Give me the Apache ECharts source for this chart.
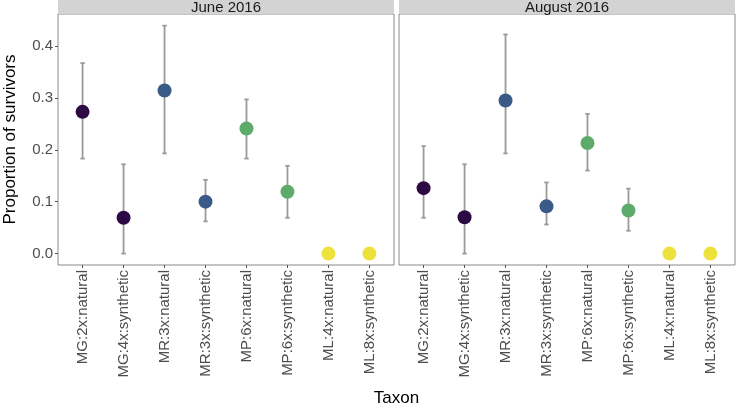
<!DOCTYPE html>
<html>
<head>
<meta charset="utf-8">
<script src="https://cdn.jsdelivr.net/npm/echarts@6/dist/echarts.min.js"></script>
<style>html,body{margin:0;padding:0;background:#fff}#c{width:736px;height:409px}</style>
</head>
<body>
<div id="c"></div>
<script>
const categories = ['MG:2x:natural','MG:4x:synthetic','MR:3x:natural','MR:3x:synthetic','MP:6x:natural','MP:6x:synthetic','ML:4x:natural','ML:8x:synthetic'];
const groups = ['MG','MG','MR','MR','MP','MP','ML','ML'];
const panels = ['June 2016','August 2016'];
const juneValues = [0.273, 0.069, 0.314, 0.100, 0.241, 0.119, 0, 0];
const juneLow    = [0.183, 0.000, 0.193, 0.062, 0.183, 0.069, null, null];
const juneHigh   = [0.367, 0.172, 0.439, 0.142, 0.297, 0.169, null, null];
const augValues  = [0.126, 0.070, 0.295, 0.091, 0.213, 0.083, 0, 0];
const augLow     = [0.069, 0.000, 0.193, 0.056, 0.160, 0.044, null, null];
const augHigh    = [0.207, 0.172, 0.422, 0.137, 0.269, 0.125, null, null];
const yTicks = [0, 0.1, 0.2, 0.3, 0.4];
const groupColors = {MG:'#2e0a44', MR:'#3a5a87', MP:'#5dab6a', ML:'#ede23b'};

const FONT = 'Liberation Sans, Arial, Helvetica, sans-serif';
const chart = echarts.init(document.getElementById('c'), null, {renderer:'canvas'});

const gridDefs = [{left:58, right:342, top:14, bottom:144},{left:399, right:1, top:14, bottom:144}];
const xIdx = categories.map((c,i)=>i);

function xAxisDef(gi){
  return {
    type:'value', gridIndex:gi, min:-0.6, max:7.6, position:'bottom',
    axisLine:{show:false, onZero:false}, splitLine:{show:false},
    axisTick:{show:true, length:3, customValues:xIdx, lineStyle:{color:'#555', width:1}},
    axisLabel:{show:true, customValues:xIdx, rotate:90, margin:5, fontSize:15, color:'#4d4d4d', fontFamily:FONT,
      formatter:v=>categories[Math.round(v)]}
  };
}
function yAxisDef(gi){
  return {
    type:'value', gridIndex:gi, min:-0.022, max:0.4615, position:'left',
    axisLine:{show:false, onZero:false}, splitLine:{show:false},
    axisTick:{show:gi===0, length:3, customValues:yTicks, lineStyle:{color:'#555', width:1}},
    axisLabel:{show:gi===0, customValues:yTicks, margin:5, fontSize:15, color:'#4d4d4d', fontFamily:FONT,
      formatter:v=>v.toFixed(1)},
    name: gi===0 ? 'Proportion of survivors' : '',
    nameLocation:'middle', nameGap:39, nameRotate:90,
    nameTextStyle:{fontSize:17, color:'#000', fontFamily:FONT}
  };
}

function errSeries(gi, lo, hi){
  const data = [];
  lo.forEach((l,i)=>{ if(l!==null) data.push([i, l, hi[i]]); });
  return {
    type:'custom', xAxisIndex:gi, yAxisIndex:gi, data:data, z:1,
    renderItem:function(params, api){
      const x = api.value(0);
      const a = api.coord([x, api.value(1)]);
      const b = api.coord([x, api.value(2)]);
      const w = 2.2;
      const st = {stroke:'#9a9a9a', lineWidth:1.8};
      return {type:'group', children:[
        {type:'line', shape:{x1:a[0], y1:a[1], x2:b[0], y2:b[1]}, style:st},
        {type:'line', shape:{x1:a[0]-w, y1:a[1], x2:a[0]+w, y2:a[1]}, style:st},
        {type:'line', shape:{x1:b[0]-w, y1:b[1], x2:b[0]+w, y2:b[1]}, style:st}
      ]};
    }
  };
}
function ptSeries(gi, vals){
  return {
    type:'scatter', xAxisIndex:gi, yAxisIndex:gi, z:2,
    symbolSize:14,
    data: vals.map((v,i)=>({value:[i, v], itemStyle:{color:groupColors[groups[i]]}})),
    itemStyle:{opacity:1}
  };
}

const graphics = [];
gridDefs.forEach((g,i)=>{
  const w = 736 - g.left - g.right;
  graphics.push({type:'rect', left:g.left, top:0, shape:{width:w, height:14}, style:{fill:'#d3d3d3'}, z:10});
  graphics.push({type:'text', x:g.left + w/2, y:7.5, style:{text:panels[i], fill:'#1a1a1a', font:'15px '+FONT, align:'center', verticalAlign:'middle'}, z:11});
});
graphics.push({type:'text', x:396.5, y:398, style:{text:'Taxon', fill:'#000', font:'17px '+FONT, align:'center', verticalAlign:'middle'}, z:11});

chart.setOption({
  animation:false,
  backgroundColor:'#fff',
  grid: gridDefs.map(g=>Object.assign({show:true, borderColor:'#8a8a8a', borderWidth:1, backgroundColor:'#fff'}, g)),
  xAxis:[xAxisDef(0), xAxisDef(1)],
  yAxis:[yAxisDef(0), yAxisDef(1)],
  series:[errSeries(0, juneLow, juneHigh), errSeries(1, augLow, augHigh), ptSeries(0, juneValues), ptSeries(1, augValues)],
  graphic:graphics
});
</script>
</body>
</html>
